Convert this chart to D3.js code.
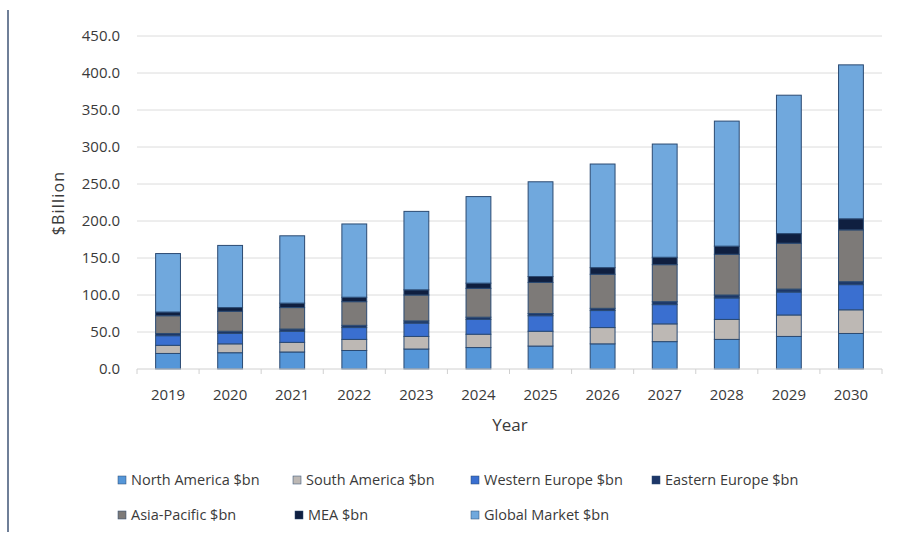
<!DOCTYPE html>
<html>
<head>
<meta charset="utf-8">
<script src="https://cdn.jsdelivr.net/npm/d3@7"></script>
<style>
  body { margin: 0; background: #fff; }
  svg { display: block; font-family: "Open Sans", Lato, sans-serif; }
</style>
</head>
<body>
<div id="chart"></div>
<script>
// values ($bn)
const years = ["2019", "2020", "2021", "2022", "2023", "2024", "2025", "2026", "2027", "2028", "2029", "2030"]
const northAmerica = [21, 22, 23, 25, 27, 29, 31, 34, 37, 40, 44, 48]
const southAmerica = [11, 12, 13, 15, 17, 18, 20, 22, 24, 27, 29, 32]
const westernEurope = [13, 14, 15, 16, 18, 20, 21, 23, 26, 29, 31, 34]
const easternEurope = [3, 3, 3, 3, 3, 3, 3, 3, 4, 4, 4, 4]
const asiaPacific = [24, 27, 29, 32, 35, 39, 42, 46, 50, 55, 62, 70]
const mea = [5, 5, 6, 6, 7, 7, 8, 9, 10, 11, 13, 15]
const globalMarket = [79, 84, 91, 99, 106, 117, 128, 140, 153, 169, 187, 208]
const yTicks = [0, 50, 100, 150, 200, 250, 300, 350, 400, 450]

const seriesNames = ["North America $bn", "South America $bn", "Western Europe $bn",
  "Eastern Europe $bn", "Asia-Pacific $bn", "MEA $bn", "Global Market $bn"]
const seriesValues = [northAmerica, southAmerica, westernEurope, easternEurope, asiaPacific, mea, globalMarket]
const colors = ["#5596d8", "#bdb8b4", "#3a6fd0", "#1d3768", "#7d7a78", "#0f1f40", "#70a8dd"]

const width = 897
const height = 535

const svg = d3.select("#chart").append("svg")
  .attr("width", width)
  .attr("height", height)

// thin frame line on the left edge of the picture
svg.append("line")
  .attr("x1", 8).attr("x2", 8)
  .attr("y1", 10).attr("y2", 532)
  .attr("stroke", "#6f7f98")
  .attr("stroke-width", 2)

const x = d3.scaleBand()
  .domain(years)
  .range([137, 882])
  .paddingInner(0.6)
  .paddingOuter(0.3)

const y = d3.scaleLinear().domain([0, 450]).range([369, 36])

// gridlines
svg.append("g")
  .selectAll("line")
  .data(yTicks.slice(1))
  .join("line")
  .attr("x1", 137).attr("x2", 882)
  .attr("y1", d => y(d)).attr("y2", d => y(d))
  .attr("stroke", "#dcdcdc")
  .attr("stroke-width", 1)

// y axis labels
svg.append("g")
  .selectAll("text")
  .data(yTicks)
  .join("text")
  .attr("x", 120)
  .attr("y", d => y(d))
  .attr("dy", "0.35em")
  .attr("text-anchor", "end")
  .attr("font-size", 15)
  .attr("fill", "#3a3a3a")
  .text(d => d.toFixed(1))

// stack the series
const table = years.map((yr, i) => {
  const row = { year: yr }
  seriesNames.forEach((s, k) => { row[s] = seriesValues[k][i] })
  return row
})
const stacked = d3.stack().keys(seriesNames)(table)

svg.append("g")
  .selectAll("g")
  .data(stacked)
  .join("g")
  .attr("fill", (d, k) => colors[k])
  .selectAll("rect")
  .data(d => d)
  .join("rect")
  .attr("x", d => x(d.data.year))
  .attr("y", d => y(d[1]))
  .attr("width", x.bandwidth())
  .attr("height", d => y(d[0]) - y(d[1]))
  .attr("stroke", "#2b4a72")
  .attr("stroke-width", 1)

// x axis line + ticks between categories
svg.append("line")
  .attr("x1", 137).attr("x2", 882)
  .attr("y1", y(0)).attr("y2", y(0))
  .attr("stroke", "#d0d0d0")

const step = x.step()
const boundaries = years.map(yr => x(yr) - step * 0.3).concat([x(years[years.length - 1]) + x.bandwidth() + step * 0.3])
svg.append("g")
  .selectAll("line")
  .data(boundaries)
  .join("line")
  .attr("x1", d => d).attr("x2", d => d)
  .attr("y1", y(0)).attr("y2", y(0) + 5)
  .attr("stroke", "#d0d0d0")

svg.append("g")
  .selectAll("text")
  .data(years)
  .join("text")
  .attr("x", d => x(d) + x.bandwidth() / 2)
  .attr("y", 400)
  .attr("text-anchor", "middle")
  .attr("font-size", 15)
  .attr("fill", "#3a3a3a")
  .text(d => d)

// axis titles
svg.append("text")
  .attr("x", 510)
  .attr("y", 431)
  .attr("text-anchor", "middle")
  .attr("font-size", 17)
  .attr("fill", "#3a3a3a")
  .text("Year")

svg.append("text")
  .attr("transform", "translate(64,203) rotate(-90)")
  .attr("text-anchor", "middle")
  .attr("font-size", 16)
  .attr("letter-spacing", 1.2)
  .attr("fill", "#3a3a3a")
  .text("$Billion")

// legend
const legendPos = [[118, 480], [293, 480], [471, 480], [652, 480], [118, 515], [295, 515], [471, 515]]
const legend = svg.append("g")
  .selectAll("g")
  .data(seriesNames)
  .join("g")
  .attr("transform", (d, k) => `translate(${legendPos[k][0]},${legendPos[k][1]})`)

legend.append("rect")
  .attr("x", 0).attr("y", -4)
  .attr("width", 8).attr("height", 8)
  .attr("fill", (d, k) => colors[k])
  .attr("stroke", "#2b4a72")
  .attr("stroke-width", 0.5)

legend.append("text")
  .attr("x", 13)
  .attr("dy", "0.35em")
  .attr("font-size", 14.5)
  .attr("fill", "#3a3a3a")
  .text(d => d)
</script>
</body>
</html>
